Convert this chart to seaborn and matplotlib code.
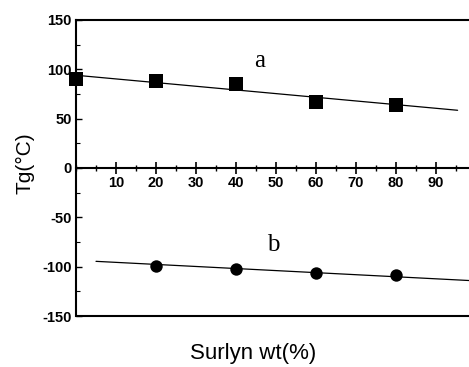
import matplotlib
matplotlib.use("Agg")
import matplotlib.pyplot as plt
import seaborn as sns
import pandas as pd
from matplotlib.ticker import MultipleLocator, FixedLocator

sns.set_style("ticks", {'axes.edgecolor': 'black', 'xtick.color': 'black',
                        'ytick.color': 'black', 'text.color': 'black',
                        'axes.labelcolor': 'black'})
plt.rcParams['font.family'] = ['Liberation Sans', 'DejaVu Sans']
plt.rcParams['axes.unicode_minus'] = False

# data
wt_a = [0, 20, 40, 60, 80]
tg_a = [90, 88, 85, 67, 64]
wt_b = [20, 40, 60, 80]
tg_b = [-99, -102, -106, -108]
fit_a_x = [0, 95.4]
fit_a_y = [94, 58.5]
fit_b_x = [5, 100]
fit_b_y = [-94.6, -114.4]
x_ticks = [10, 20, 30, 40, 50, 60, 70, 80, 90]
y_ticks = [-150, -100, -50, 0, 50, 100, 150]

fig = plt.figure(figsize=(4.69, 3.67), dpi=100)
ax = fig.add_axes([76/469, 51/367, 400/469, 296/367])

sns.lineplot(x=fit_a_x, y=fit_a_y, ax=ax, color='black', lw=0.9)
sns.lineplot(x=fit_b_x, y=fit_b_y, ax=ax, color='black', lw=0.9)
sns.scatterplot(x=wt_a, y=tg_a, ax=ax, marker='s', s=90, color='black',
                edgecolor='black', linewidth=0, zorder=5, clip_on=False)
sns.scatterplot(x=wt_b, y=tg_b, ax=ax, marker='o', s=80, color='black',
                edgecolor='black', linewidth=0, zorder=5)

ax.set_xlim(0, 100)
ax.set_ylim(-150, 150)

# x axis at y=0
ax.spines['bottom'].set_position(('data', 0))
ax.spines['bottom'].set_linewidth(1.5)
for s in ['left', 'top', 'right']:
    ax.spines[s].set_linewidth(1.5)
ax.plot([0, 1], [0, 0], transform=ax.transAxes, color='black', lw=1.5, clip_on=False)

ax.xaxis.set_major_locator(FixedLocator(x_ticks))
ax.xaxis.set_minor_locator(MultipleLocator(5))
ax.tick_params(axis='x', which='major', direction='inout', length=9, width=1.2,
               pad=1, labelsize=10.5, colors='black')
ax.tick_params(axis='x', which='minor', direction='inout', length=5, width=1.0,
               colors='black')

ax.yaxis.set_major_locator(FixedLocator(y_ticks))
ax.yaxis.set_minor_locator(MultipleLocator(25))
ax.tick_params(axis='y', which='major', direction='in', length=4, width=1.0,
               pad=3, labelsize=10.5, colors='black')
ax.tick_params(axis='y', which='minor', direction='in', length=3, width=0.8,
               colors='black')

for lab in ax.get_xticklabels() + ax.get_yticklabels():
    lab.set_fontweight('bold')

ax.set_xlabel('')
ax.set_ylabel('')
fig.text(253/469, 1 - 353/367, 'Surlyn wt(%)', ha='center', va='center',
         fontsize=16, color='black')
fig.text(25/469, 1 - 163/367, 'Tg(°C)', ha='center', va='center', fontsize=15,
         rotation=90, color='black')

ax.text(45.8, 108, 'a', fontsize=18, family='Liberation Serif', ha='center',
        va='center', color='black')
ax.text(49.4, -78, 'b', fontsize=18, family='Liberation Serif', ha='center',
        va='center', color='black')

fig.savefig('out.png', dpi=100)
